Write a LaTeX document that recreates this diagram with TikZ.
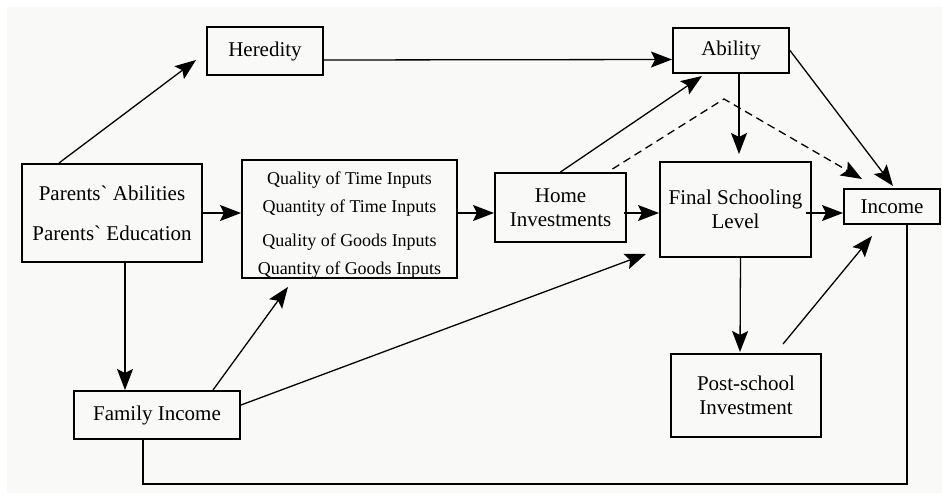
\documentclass[tikz,border=0pt]{standalone}
\usepackage{fontspec}
\setmainfont{Liberation Serif}
\usetikzlibrary{arrows.meta,calc,positioning}
\definecolor{paper}{RGB}{249,249,247}

\begin{document}
\begin{tikzpicture}[x=1pt,y=-1pt,
                    box/.style={draw=black,line width=2pt,inner sep=0pt,align=center,font=\fontsize{21}{24.5}\selectfont},
                    link/.style={line width=1.3pt,-{Stealth[length=21pt,width=16pt,inset=4pt]}},
                    plain/.style={line width=1.3pt}]
                    \fill [white] (0,0) rectangle (942,501);
                    \fill [paper] (7,7) rectangle (942,493);
                    \useasboundingbox (0,0) rectangle (942,501);
                    \node [box,minimum width=116pt,minimum height=48pt] (heredity) at (265,51) {Heredity};
                    \node [box,minimum width=116pt,minimum height=45pt] (ability) at (731,50.5) {Ability};
                    \node [box,minimum width=180pt,minimum height=98pt] (parents) at (112,213) {Parents\textasciigrave{} Abilities\\[15.5pt]Parents\textasciigrave{} Education};
                    \node [box,minimum width=215pt,minimum height=116pt,font=\fontsize{18}{28}\selectfont] (inputs) at (349.5,219) {\rule{0pt}{24pt}Quality of Time Inputs\\Quantity of Time Inputs\\[6pt]Quality of Goods Inputs\\Quantity of Goods Inputs};
                    \node [box,minimum width=131pt,minimum height=69pt] (home) at (560.5,207.5) {Home\\Investments};
                    \node [box,minimum width=151pt,minimum height=95pt] (final) at (735.5,209.5) {Final Schooling\\Level};
                    \node [box,minimum width=96pt,minimum height=35pt] (income) at (892,206.5) {Income};
                    \node [box,minimum width=166pt,minimum height=48pt] (family) at (157,415) {Family Income};
                    \node [box,minimum width=150pt,minimum height=83pt] (post) at (746,395.5) {Post-school\\Investment};
                    \draw [link] ($(parents.north west)+(38,0)$) -- ($(heredity.west)+(-10,9)$);
                    \draw [link] ($(heredity.east)+(0,9)$) -- ($(ability.west)+(0,9)$);
                    \draw [link] (parents.east) -- (parents.east -| inputs.west);
                    \draw [link] ($(inputs.east)+(0,-6)$) -- ($(home.west)+(0,5.5)$);
                    \draw [link] ($(home.east)+(-3,5.5)$) -- ($(final.west)+(0,3.5)$);
                    \draw [link] ($(final.east)+(-6,3.5)$) -- ($(income.west)+(0,6.5)$);
                    \draw [link] ($(ability.south)+(8,0)$) -- ($(final.north)+(3.5,-7)$);
                    \draw [link] (ability.east) -- ($(income.north)+(1,-2)$);
                    \draw [link] (home.north) -- ($(ability.south)+(-29,2)$);
                    \draw [link,dash pattern=on 8pt off 5pt] ($(home.north)+(52,-3)$) -- ($(ability.south)+(-7,25)$) -- ($(income.north west)+(19,-9)$);
                    \draw [link] ($(family.east)+(0,-10)$) -- ($(final.south west)+(-13,-4)$);
                    \draw [link] ($(family.north)+(56,0)$) -- ($(inputs.south)+(-61.5,8)$);
                    \draw [link] ($(parents.south)+(13,0)$) -- ($(family.north)+(-32,0)$);
                    \draw [link] ($(final.south)+(5,0)$) -- ($(post.north)+(-6,-1)$);
                    \draw [link] ($(post.north)+(37,-9)$) -- ($(income.south)+(-20,11)$);
                    \draw [plain] ($(income.south)+(15,0)$) -- ++(0,259) -| ($(family.south)+(-14,0)$);
\end{tikzpicture}
\end{document}
